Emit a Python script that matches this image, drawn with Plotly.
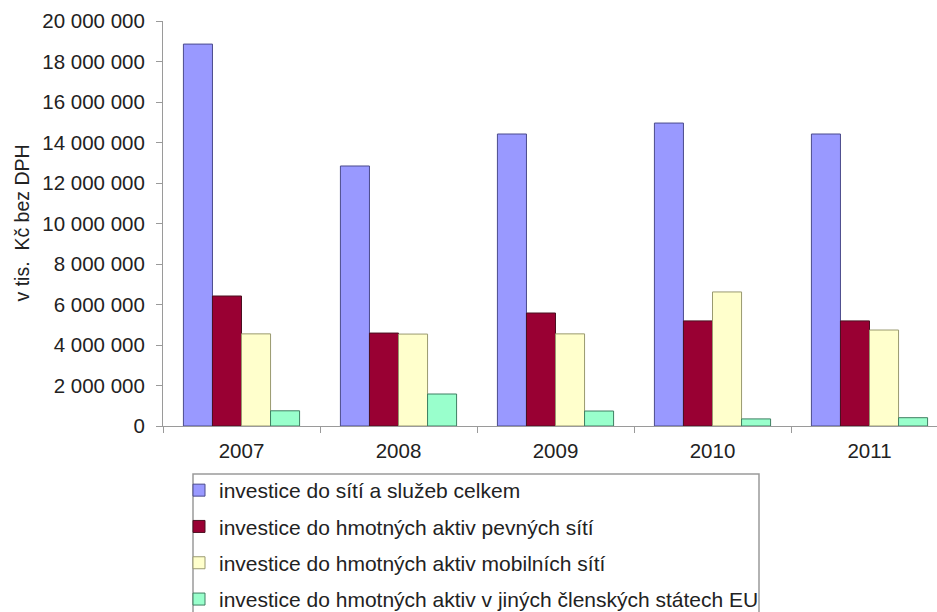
import plotly.graph_objects as go

# Years on the category axis
years = ["2007", "2008", "2009", "2010", "2011"]

# Investment values (thousand CZK, excl. VAT)
total_networks_services = [18860000, 12840000, 14420000, 14960000, 14420000]
fixed_networks_assets = [6420000, 4590000, 5580000, 5190000, 5190000]
mobile_networks_assets = [4550000, 4540000, 4550000, 6620000, 4740000]
other_eu_assets = [750000, 1580000, 740000, 350000, 410000]

series_names = [
    "investice do sítí a služeb celkem",
    "investice do hmotných aktiv pevných sítí",
    "investice do hmotných aktiv mobilních sítí",
    "investice do hmotných aktiv v jiných členských státech EU",
]
fill_colors = ["#9999FF", "#990033", "#FFFFCC", "#99FFCC"]
edge_colors = ["#4B4B8C", "#4A1020", "#9A9A70", "#3F7F62"]

series_values = [
    total_networks_services,
    fixed_networks_assets,
    mobile_networks_assets,
    other_eu_assets,
]

fig = go.Figure()
for i, (name, vals, fc, ec) in enumerate(
    zip(series_names, series_values, fill_colors, edge_colors)
):
    fig.add_trace(
        go.Bar(
            x=years,
            y=vals,
            name=name,
            legendgroup=f"g{i}",
            marker=dict(color=fc, line=dict(color=ec, width=1)),
        )
    )

W, H = 937, 612
ml, mt, mb = 163, 21, 186
plot_w = W - ml
plot_h = H - mt - mb


def px_x(px):
    return (px - ml) / plot_w


def px_y(py):
    return (mt + plot_h - py) / plot_h


font = "Liberation Sans, Arial, sans-serif"

fig.update_layout(
    width=W,
    height=H,
    margin=dict(l=ml, r=0, t=mt, b=mb, pad=0, autoexpand=False),
    paper_bgcolor="white",
    plot_bgcolor="white",
    separators=", ",
    barmode="group",
    bargap=0.26,
    bargroupgap=0,
    font=dict(family=font, size=20, color="#222222"),
    showlegend=True,
    legend=dict(
        x=px_x(179),
        y=px_y(470),
        xanchor="left",
        yanchor="top",
        borderwidth=0,
        bgcolor="rgba(0,0,0,0)",
        font=dict(family=font, size=21, color="#222222"),
        tracegroupgap=6,
        itemwidth=30,
    ),
    xaxis=dict(
        range=[-0.5, -0.5 + plot_w / 157.0],
        showline=True,
        linecolor="#9a9a9a",
        linewidth=1,
        ticks="outside",
        tickson="boundaries",
        ticklen=6,
        tickcolor="#9a9a9a",
        showgrid=False,
        tickfont=dict(size=20.5),
        ticklabelstandoff=6,
    ),
    yaxis=dict(
        range=[0, 20000000],
        tickvals=list(range(0, 20000001, 2000000)),
        tickformat=",d",
        showline=True,
        linecolor="#9a9a9a",
        linewidth=1,
        ticks="outside",
        ticklen=6,
        tickcolor="#9a9a9a",
        showgrid=False,
        zeroline=False,
        tickfont=dict(size=20.5),
        ticklabelstandoff=7,
    ),
    shapes=[
        # frame around the legend
        dict(
            type="rect",
            xref="paper",
            yref="paper",
            x0=px_x(193),
            x1=px_x(759),
            y0=px_y(474),
            y1=px_y(640),
            line=dict(color="#9a9a9a", width=1.5),
            fillcolor="rgba(0,0,0,0)",
            layer="below",
        )
    ],
    annotations=[
        dict(
            text="v tis.  Kč bez DPH",
            xref="paper",
            yref="paper",
            x=-(ml - 21) / plot_w,
            y=0.5,
            xanchor="center",
            yanchor="middle",
            textangle=-90,
            showarrow=False,
            font=dict(family=font, size=19.5, color="#222222"),
        )
    ],
)

fig.write_html("out.html")
